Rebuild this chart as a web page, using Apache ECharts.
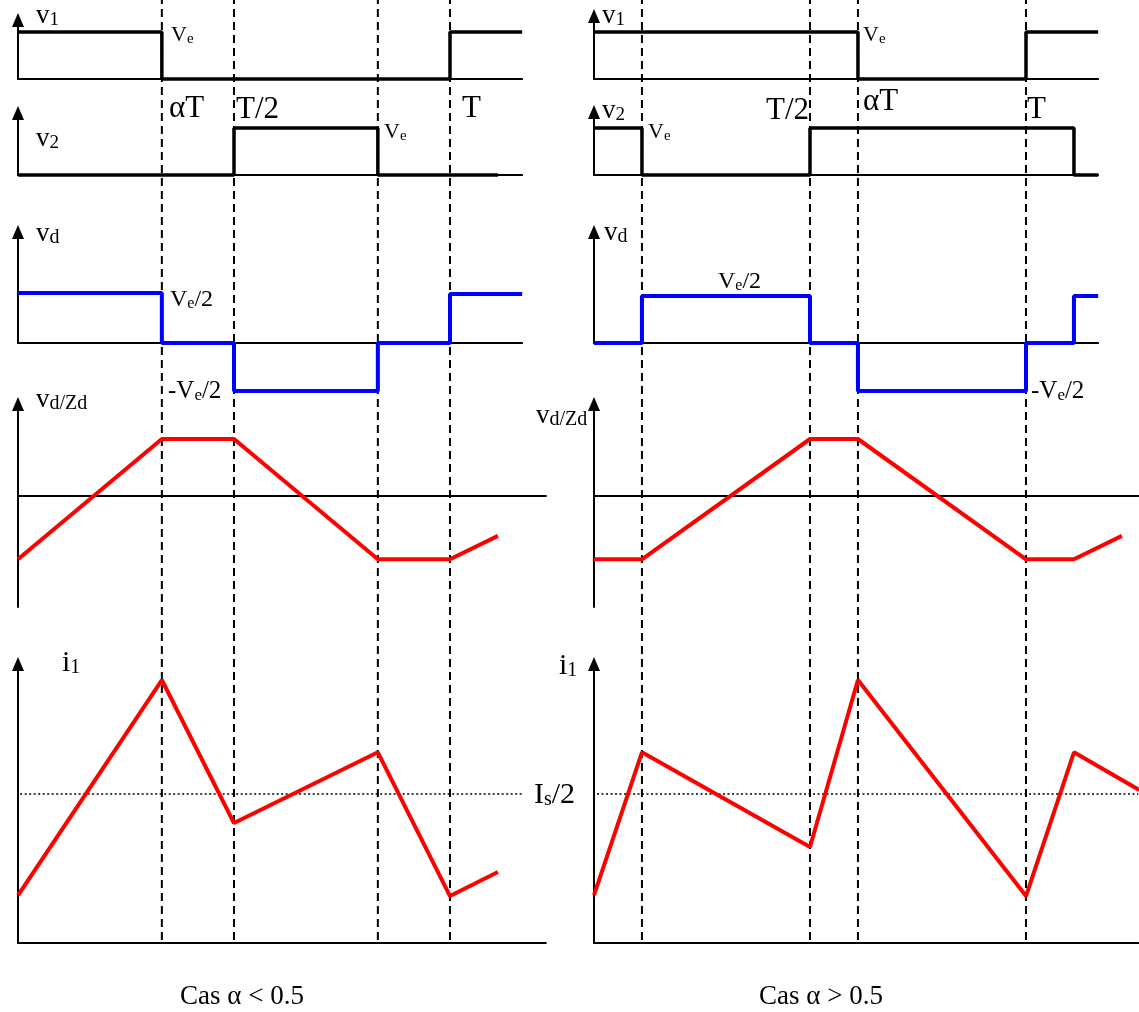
<!DOCTYPE html>
<html>
<head>
<meta charset="utf-8">
<script src="https://cdn.jsdelivr.net/npm/echarts@6/dist/echarts.min.js"></script>
<style>html,body{margin:0;padding:0;background:#fff}#c{width:1139px;height:1012px}</style>
</head>
<body>
<div id="c"></div>
<script>
// ---------- DATA (time in periods T, values in per-panel units) ----------
const v1Left  = [[0,1],[0.333,1],[0.333,0],[1,0],[1,1],[1.167,1]];
const v2Left  = [[0,0],[0.5,0],[0.5,1],[0.833,1],[0.833,0],[1.111,0]];
const vdLeft  = [[0,1],[0.333,1],[0.333,0],[0.5,0],[0.5,-0.96],[0.833,-0.96],[0.833,0],[1,0],[1,0.98],[1.167,0.98]];
const vzLeft  = [[0,-1.11],[0.333,1],[0.5,1],[0.833,-1.11],[1,-1.11],[1.111,-0.70]];
const i1Left  = [[0,0.32],[0.333,1.765],[0.5,0.805],[0.833,1.28],[1,0.315],[1.111,0.477]];
const isHalfLeft = [[0.005,1],[1.169,1]];
const markTimesLeft = [0.333, 0.5, 0.833, 1];

const v1Right = [[0,1],[0.611,1],[0.611,0],[1,0],[1,1],[1.167,1]];
const v2Right = [[0,1],[0.111,1],[0.111,0],[0.5,0],[0.5,1],[1.111,1],[1.111,0],[1.167,0]];
const vdRight = [[0,0],[0.111,0],[0.111,0.94],[0.5,0.94],[0.5,0],[0.611,0],[0.611,-0.96],[1,-0.96],[1,0],[1.111,0],[1.111,0.94],[1.167,0.94]];
const vzRight = [[0,-1.11],[0.111,-1.11],[0.5,1],[0.611,1],[1,-1.11],[1.111,-1.11],[1.222,-0.70]];
const i1Right = [[0,0.322],[0.111,1.28],[0.5,0.644],[0.611,1.765],[1,0.315],[1.111,1.28],[1.262,1.027]];
const isHalfRight = [[0.007,1],[1.26,1]];
const markTimesRight = [0.111, 0.5, 0.611, 1];

// ---------- LAYOUT ----------
const PX_PER_T = 432;
const ARROW = [12, 14];
const FONT = '"Liberation Serif","Times New Roman",serif';
const colX = [18, 594];
const overlayMax = [1.3, 1.26];
const rowsLayout = {
  v1: {tip:[13,9],   base:79,  bottom:79,  unit:47,  xMax:[1.167,1.167]},
  v2: {tip:[106,105],base:175, bottom:175, unit:47,  xMax:[1.167,1.167]},
  vd: {tip:[225,225],base:343, bottom:343, unit:50,  xMax:[1.167,1.167]},
  vz: {tip:[397,397],base:496, bottom:607, unit:57,  xMax:[1.222,1.26]},
  i1: {tip:[657,657],base:943, bottom:943, unit:149, xMax:[1.222,1.26]}
};

const grids = [], xAxes = [], yAxes = [], series = [];
function hiddenAxis(idx, min, max) {
  return {gridIndex: idx, type: 'value', min, max, show: false};
}
function addPanel(col, key, data, color, width) {
  const L = rowsLayout[key];
  const top = L.tip[col] + ARROW[1] / 2;
  const idx = grids.length;
  grids.push({left: colX[col], top: top, width: L.xMax[col] * PX_PER_T, height: L.bottom - top});
  xAxes.push({gridIndex: idx, type: 'value', min: 0, max: L.xMax[col],
    axisLine: {show: true, onZero: true, lineStyle: {color: '#000', width: 2}},
    axisTick: {show: false}, axisLabel: {show: false}, splitLine: {show: false}});
  yAxes.push({gridIndex: idx, type: 'value',
    min: -(L.bottom - L.base) / L.unit, max: (L.base - top) / L.unit,
    axisLine: {show: true, symbol: ['none', 'triangle'], symbolSize: ARROW,
      lineStyle: {color: '#000', width: 2}},
    axisTick: {show: false}, axisLabel: {show: false}, splitLine: {show: false}});
  series.push({type: 'line', xAxisIndex: idx, yAxisIndex: idx, data: data,
    symbol: 'none', clip: false, z: 5, lineStyle: {color: color, width: width}});
  return idx;
}
function addDotted(idx, data) {
  series.push({type: 'line', xAxisIndex: idx, yAxisIndex: idx, data: data,
    symbol: 'none', clip: false, z: 3, lineStyle: {color: '#000', width: 1.5, type: [2, 2.5]}});
}
function addDashedOverlay(col, times) {
  const idx = grids.length;
  grids.push({left: colX[col], top: 0, width: overlayMax[col] * PX_PER_T, height: 940});
  xAxes.push(hiddenAxis(idx, 0, overlayMax[col]));
  yAxes.push(hiddenAxis(idx, 0, 1));
  times.forEach(t => {
    series.push({type: 'line', xAxisIndex: idx, yAxisIndex: idx, data: [[t, 0], [t, 1]],
      symbol: 'none', z: 2, lineStyle: {color: '#000', width: 2, type: [8, 5]}});
  });
}

addDashedOverlay(0, markTimesLeft);
addDashedOverlay(1, markTimesRight);

addPanel(0, 'v1', v1Left, '#000', 3.5);
addPanel(0, 'v2', v2Left, '#000', 3.5);
addPanel(0, 'vd', vdLeft, '#0000ff', 4);
addPanel(0, 'vz', vzLeft, '#ff0000', 4);
const iL = addPanel(0, 'i1', i1Left, '#ff0000', 4);
addDotted(iL, isHalfLeft);

addPanel(1, 'v1', v1Right, '#000', 3.5);
addPanel(1, 'v2', v2Right, '#000', 3.5);
addPanel(1, 'vd', vdRight, '#0000ff', 4);
addPanel(1, 'vz', vzRight, '#ff0000', 4);
const iR = addPanel(1, 'i1', i1Right, '#ff0000', 4);
addDotted(iR, isHalfRight);

// ---------- LABELS ----------
// [x, baseline, baseFont, subFont, richText, align]
const labels = [
  [36, 25, 27, 19, '{b|v}{s|1}'],
  [171, 43, 22, 15, '{b|V}{s|e}'],
  [169, 119, 31, 20, '{b|αT}'],
  [236, 120, 31, 20, '{b|T/2}'],
  [462, 119, 31, 20, '{b|T}'],
  [36, 148, 27, 19, '{b|v}{s|2}'],
  [384, 140, 22, 15, '{b|V}{s|e}'],
  [36, 243, 27, 20, '{b|v}{s|d}'],
  [170, 308, 24, 16, '{b|V}{s|e}{b|/2}'],
  [168, 400, 25, 17, '{b|-V}{s|e}{b|/2}'],
  [36, 409, 27, 20, '{b|v}{s|d/Zd}'],
  [62, 673, 30, 20, '{b|i}{s|1}'],
  [242, 1006, 27, 18, '{b|Cas α < 0.5}', 'center'],

  [602, 25, 27, 19, '{b|v}{s|1}'],
  [863, 43, 22, 15, '{b|V}{s|e}'],
  [766, 121, 31, 20, '{b|T/2}'],
  [863, 112, 31, 20, '{b|αT}'],
  [1027, 120, 31, 20, '{b|T}'],
  [602, 120, 27, 19, '{b|v}{s|2}'],
  [648, 140, 22, 15, '{b|V}{s|e}'],
  [604, 242, 27, 20, '{b|v}{s|d}'],
  [718, 290, 24, 16, '{b|V}{s|e}{b|/2}'],
  [1031, 400, 25, 17, '{b|-V}{s|e}{b|/2}'],
  [536, 425, 27, 20, '{b|v}{s|d/Zd}'],
  [559, 676, 30, 20, '{b|i}{s|1}'],
  [534, 805, 30, 20, '{b|I}{s|s}{b|/2}'],
  [821, 1006, 27, 18, '{b|Cas α > 0.5}', 'center']
];
const graphics = labels.map(([x, bl, F, Sf, txt, align]) => ({
  type: 'text', x: x, y: bl - 0.34 * F, z: 10,
  style: {
    text: txt, fill: '#000', align: align || 'left', verticalAlign: 'middle',
    fontFamily: FONT, fontSize: F,
    rich: {
      b: {fontFamily: FONT, fontSize: F, lineHeight: F, fill: '#000'},
      s: {fontFamily: FONT, fontSize: Sf, lineHeight: Sf, verticalAlign: 'bottom', fill: '#000'}
    }
  }
}));

const chart = echarts.init(document.getElementById('c'), null, {renderer: 'canvas'});
chart.setOption({
  animation: false,
  backgroundColor: '#fff',
  grid: grids, xAxis: xAxes, yAxis: yAxes, series: series,
  graphic: graphics
});
</script>
</body>
</html>
